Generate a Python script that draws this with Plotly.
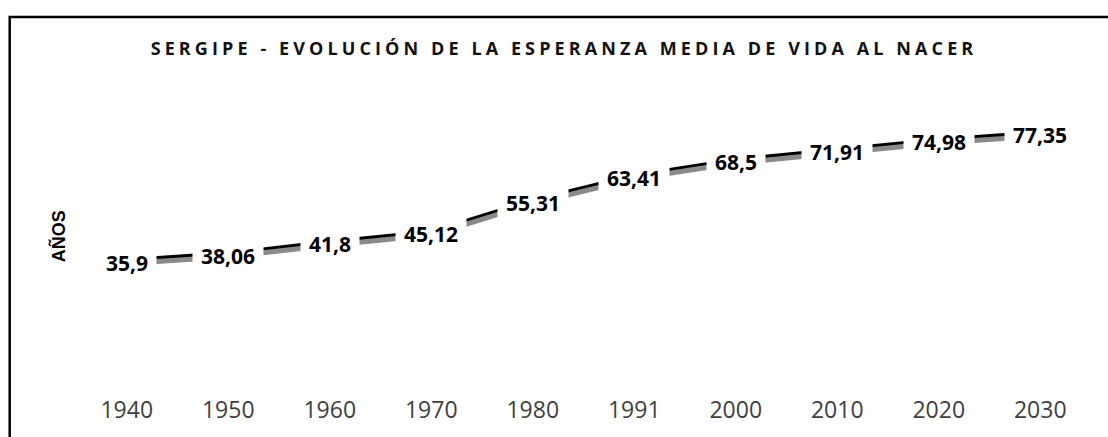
import plotly.graph_objects as go

# Life expectancy at birth, Sergipe
years = ["1940", "1950", "1960", "1970", "1980", "1991", "2000", "2010", "2020", "2030"]
esperanza = [35.9, 38.06, 41.8, 45.12, 55.31, 63.41, 68.5, 71.91, 74.98, 77.35]
titulo = "SERGIPE - EVOLUCIÓN DE LA ESPERANZA MEDIA DE VIDA AL NACER"
eje_y = "AÑOS"

W, H = 1108, 437
L, R, T, B = 76, 17, 94, 55
Y_MAX = 90
PW, PH = W - L - R, H - T - B

def px_x(p):
    return (p - L) / PW

def px_y(p):
    return (H - B - p) / PH

# second axis shifted a few pixels so the grey copy of the line reads as a shadow
SHADOW_PX = 3
dy = SHADOW_PX * Y_MAX / PH

fig = go.Figure()
fig.add_trace(go.Scatter(
    x=years, y=esperanza, mode="lines", yaxis="y2",
    line=dict(color="#8a8a8a", width=5), hoverinfo="skip", showlegend=False,
))
fig.add_trace(go.Scatter(
    x=years, y=esperanza, mode="lines",
    line=dict(color="#000000", width=5), showlegend=False,
))

# value labels on white boxes; the category axis is addressed by index
labels = [str(v).replace(".", ",") for v in esperanza]
for i, (v, t) in enumerate(zip(esperanza, labels)):
    fig.add_annotation(
        x=i, y=v, xref="x", yref="y", text=f"<b>{t}</b>", showarrow=False,
        xanchor="center", yanchor="middle", yshift=-2,
        bgcolor="white", borderpad=8,
        font=dict(family="Open Sans", size=21, color="#000000"),
    )

fig.add_annotation(
    x=px_x(58), y=px_y(242), xref="paper", yref="paper", text=f"<b>{eje_y}</b>",
    textangle=-90, showarrow=False, xanchor="center", yanchor="middle",
    font=dict(family="Liberation Sans", size=18, color="#000000"),
)

fig.add_shape(
    type="rect", xref="paper", yref="paper",
    x0=px_x(9.7), x1=px_x(1125), y0=px_y(14), y1=px_y(470),
    line=dict(color="#000000", width=2.5), layer="above",
)

fig.update_layout(
    width=W, height=H,
    margin=dict(l=L, r=R, t=T, b=B, pad=0),
    paper_bgcolor="white", plot_bgcolor="white",
    title=dict(
        text=f"<b>{titulo}</b>", x=564 / W, xanchor="center",
        y=1 - 49 / H, yanchor="middle", yref="container",
        font=dict(family="Open Sans", size=18, color="#111111"),
    ),
    xaxis=dict(
        type="category", range=[-0.5, len(years) - 0.5],
        showgrid=False, showline=False, zeroline=False, ticks="",
        tickfont=dict(family="Open Sans", size=23, color="#404040"),
        ticklabelstandoff=23,
    ),
    yaxis=dict(range=[0, Y_MAX], visible=False),
    yaxis2=dict(range=[dy, Y_MAX + dy], overlaying="y", visible=False),
)

fig.write_html(
    "out.html",
    post_script="document.querySelectorAll('.gtitle').forEach(function(e){e.style.letterSpacing='4.1px';});",
)
